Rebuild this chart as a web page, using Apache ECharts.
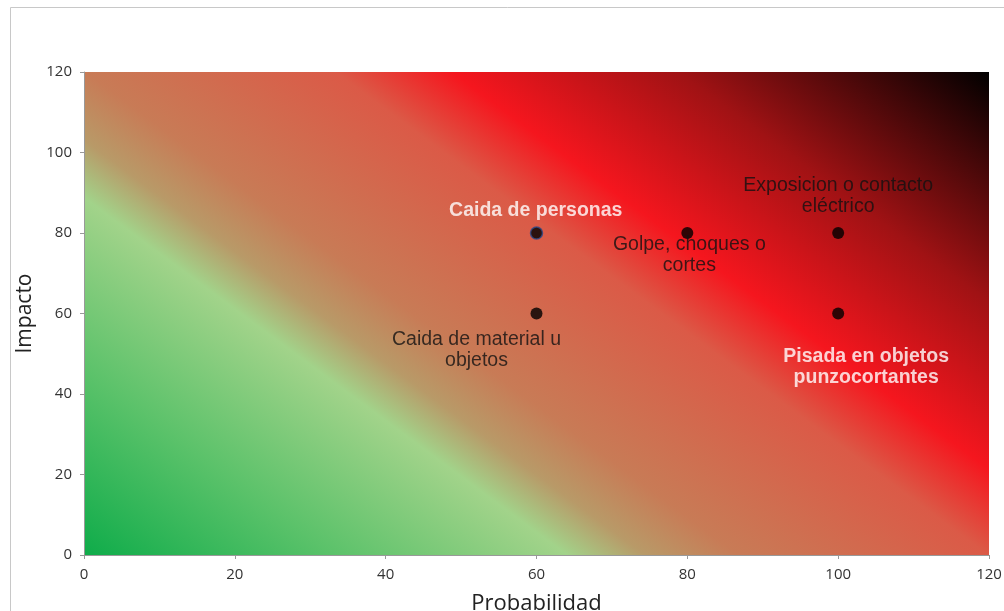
<!DOCTYPE html>
<html>
<head>
<meta charset="utf-8">
<script src="https://cdn.jsdelivr.net/npm/echarts@6/dist/echarts.min.js"></script>
<style>html,body{margin:0;padding:0;background:#fff;}#c{width:1004px;height:611px;}</style>
</head>
<body>
<div id="c"></div>
<script>
const riskNames = ['Caida de personas', 'Golpe, choques o\ncortes', 'Caida de material u\nobjetos', 'Exposicion o contacto\neléctrico', 'Pisada en objetos\npunzocortantes'];
const probabilidad = [60, 80, 60, 100, 100];
const impacto = [80, 80, 60, 80, 60];
const xTicks = [0, 20, 40, 60, 80, 100, 120];
const yTicks = [0, 20, 40, 60, 80, 100, 120];

const labelStyles = [
  {color: '#ffffff', fontWeight: 'bold', offset: [0, -22]},
  {color: '#111111', fontWeight: 'normal', offset: [2, 22]},
  {color: '#111111', fontWeight: 'normal', offset: [-60, 37]},
  {color: '#111111', fontWeight: 'normal', offset: [0, -37]},
  {color: '#ffffff', fontWeight: 'bold', offset: [28, 54]}
];
const SYM = 12;

const chart = echarts.init(document.getElementById('c'), null, {renderer: 'canvas'});
const data = riskNames.map((n, i) => ({
  name: n,
  value: [probabilidad[i], impacto[i]],
  itemStyle: i === 0 ? {color: '#000', borderColor: '#2a4a8a', borderWidth: 1.5} : {color: '#000'},
  label: {
    show: true,
    position: [SYM / 2 + labelStyles[i].offset[0], SYM / 2 + labelStyles[i].offset[1]],
    align: 'center',
    verticalAlign: 'middle',
    formatter: n,
    color: labelStyles[i].color,
    fontWeight: labelStyles[i].fontWeight
  }
}));

chart.setOption({
  animation: false,
  graphic: [{
    type: 'rect', left: 10, top: 7, z: -10,
    shape: {width: 1010, height: 620},
    style: {fill: '#fff', stroke: '#c8c8c8', lineWidth: 1}
  }],
  grid: {
    left: 84, right: 15, top: 72, bottom: 56,
    outerBoundsMode: 'none',
    containLabel: false,
    show: true, borderWidth: 0,
    backgroundColor: {
      type: 'linear', x: 0, y: 1, x2: 0.609, y2: -0.543,
      colorStops: [
        {offset: 0, color: '#0fac4a'},
        {offset: 0.16, color: '#5bc26a'},
        {offset: 0.31, color: '#a2d38a'},
        {offset: 0.36, color: '#b89a68'},
        {offset: 0.42, color: '#c87b56'},
        {offset: 0.58, color: '#db5a47'},
        {offset: 0.655, color: '#f5161e'},
        {offset: 0.80, color: '#a01214'},
        {offset: 1, color: '#000000'}
      ]
    }
  },
  xAxis: {
    type: 'value', min: 0, max: 120, interval: 20,
    name: 'Probabilidad', nameLocation: 'middle', nameGap: 38,
    nameTextStyle: {fontFamily: 'Open Sans', fontSize: 22, color: '#222'},
    axisLine: {show: true, lineStyle: {color: '#999'}},
    axisTick: {show: true, length: 4, lineStyle: {color: '#999'}},
    axisLabel: {fontFamily: 'Open Sans', fontSize: 15, color: '#333', margin: 12},
    splitLine: {show: false}
  },
  yAxis: {
    type: 'value', min: 0, max: 120, interval: 20,
    name: 'Impacto', nameLocation: 'middle', nameGap: 45, nameRotate: 90,
    nameTextStyle: {fontFamily: 'Open Sans', fontSize: 21, color: '#222'},
    axisLine: {show: true, lineStyle: {color: '#999'}},
    axisTick: {show: true, length: 4, lineStyle: {color: '#999'}},
    axisLabel: {fontFamily: 'Open Sans', fontSize: 15, color: '#333', margin: 12},
    splitLine: {show: false}
  },
  series: [{
    type: 'scatter',
    symbol: 'circle',
    symbolSize: SYM,
    data: data,
    label: {
      fontFamily: 'Liberation Sans, Arial, sans-serif',
      fontSize: 19.5,
      lineHeight: 21
    },
    labelLayout: {hideOverlap: false}
  }]
});
</script>
</body>
</html>
